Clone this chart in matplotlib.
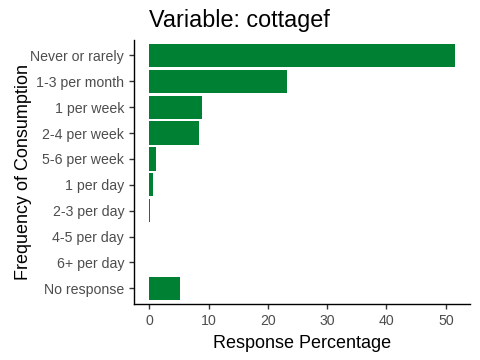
import matplotlib
matplotlib.use("Agg")
import matplotlib.pyplot as plt

plt.rcParams['font.family'] = ['Liberation Sans', 'DejaVu Sans']

categorias = ["Never or rarely", "1-3 per month", "1 per week", "2-4 per week",
              "5-6 per week", "1 per day", "2-3 per day", "4-5 per day",
              "6+ per day", "No response"]
porcentajes = [51.5, 23.3, 8.95, 8.45, 1.18, 0.68, 0.15, 0.0, 0.0, 5.2]

fig = plt.figure(figsize=(4.8, 3.6), dpi=100)
ax = fig.add_axes([0.279, 0.156, 0.700, 0.733])

pos = list(range(len(categorias)))
ax.barh(pos, porcentajes, height=0.9, color="#008033")
ax.set_yticks(pos)
ax.set_yticklabels(categorias)
ax.set_ylim(len(categorias) - 0.4, -0.6)
xmax = max(porcentajes)
ax.set_xlim(-0.05 * xmax, 1.05 * xmax)
ax.set_xticks([0, 10, 20, 30, 40, 50])

for s in ["top", "right"]:
    ax.spines[s].set_visible(False)
for s in ["left", "bottom"]:
    ax.spines[s].set_linewidth(1.0)
ax.tick_params(axis="both", labelsize=10.2, labelcolor="#4D4D4D", color="#333333",
               length=3.5, width=1.0)

ax.set_xlabel("Response Percentage", fontsize=13, labelpad=5)
ax.set_ylabel("Frequency of Consumption", fontsize=13, labelpad=-1)
ax.set_title("Variable: cottagef", fontsize=16.8, loc="left", x=0.045, pad=9)

fig.savefig("out.png", dpi=100)
